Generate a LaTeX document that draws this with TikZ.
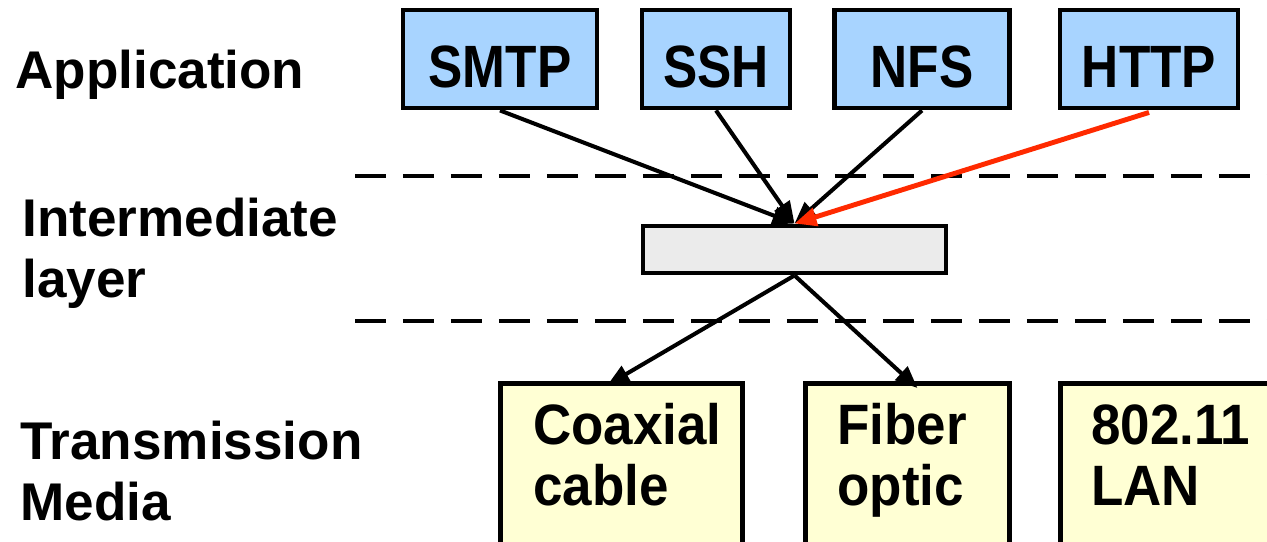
\documentclass[tikz,border=0pt]{standalone}
\usepackage{fontspec}
\setmainfont{Liberation Sans}
\newfontfamily\narrowsf[FakeStretch=0.86]{Liberation Sans}
\newfontfamily\mediasf[FakeStretch=0.93]{Liberation Sans}
\usetikzlibrary{positioning,arrows.meta}
\definecolor{protoblue}{HTML}{A8D4FF}
\definecolor{mediayellow}{HTML}{FFFFD4}
\definecolor{midgray}{HTML}{EBEBEB}
\definecolor{arrowred}{HTML}{FF2A00}
\tikzset{
  layername/.style={anchor=base west, align=left, inner sep=0pt, font=\bfseries\fontsize{30.2}{34.7}\selectfont},
  proto/.style={draw, line width=2.8pt, fill=protoblue, minimum height=1.96cm,
    text height=1.14cm, text depth=0pt, font=\narrowsf\bfseries\fontsize{34}{40}\selectfont},
  medium/.style={draw, line width=2.8pt, fill=mediayellow, anchor=north west,
    minimum width=#1, minimum height=3.6cm},
  mediumtext/.style={anchor=base west, align=left, inner sep=0pt,
    font=\mediasf\bfseries\fontsize{32.4}{34.2}\selectfont},
  link/.style={line width=2.3pt, -{Triangle[length=0.44cm,width=0.36cm]}},
  layerline/.style={line width=2.8pt, dash pattern=on 0.62cm off 0.34cm}
}
\begin{document}
\begin{tikzpicture}[x=0.02cm, y=-0.02cm]
    \clip (0,0) rectangle (1267,541);
    \useasboundingbox (0,0) rectangle (1267,541);
    % layer names
    \node[layername] (app) at (15,88) {Application};
    \node[layername] (inter) at (22,297) {Intermediate\\layer};
    \node[layername] (trans) at (20,520) {Transmission\\Media};
    % layer borders
    \draw[layerline] (355,176) -- (1267,176);
    \draw[layerline] (355,321) -- (1267,321);
    % protocols
    \node[proto, minimum width=3.88cm] (smtp) at (500,59) {SMTP};
    \node[proto, minimum width=2.96cm] (ssh) at (716,59) {SSH};
    \node[proto, minimum width=3.5cm] (nfs) at (922,59) {NFS};
    \node[proto, minimum width=3.56cm] (http) at (1149,59) {HTTP};
    % intermediate layer
    \node[draw, line width=2.8pt, fill=midgray, minimum width=6.06cm, minimum height=0.94cm] (mid) at (794.5,249.5) {};
    % media
    \node[medium=4.84cm] (coax) at (498,381) {};
    \node[medium=4.08cm] (fiber) at (803,381) {};
    \node[medium=4.6cm] (wlan) at (1058,381) {};
    \node[mediumtext] (coaxtext) at (533,505) {Coaxial\\cable};
    \node[mediumtext] (fibertext) at (837,505) {Fiber\\optic};
    \node[mediumtext] (wlantext) at (1091,505) {802.11\\LAN};
    % connections
    \draw[link] (smtp.south) -- (mid.north);
    \draw[link] (ssh.south) -- (mid.north);
    \draw[link] (nfs.south) -- (mid.north);
    \draw[link, line width=2.8pt, draw=arrowred, fill=arrowred] ([yshift=-0.04cm]http.south) -- (mid.north);
    \draw[link] (mid.south) -- ([xshift=-0.28cm,yshift=-0.08cm]coax.north);
    \draw[link] (mid.south) -- ([xshift=0.2cm,yshift=-0.14cm]fiber.north);
\end{tikzpicture}
\end{document}
